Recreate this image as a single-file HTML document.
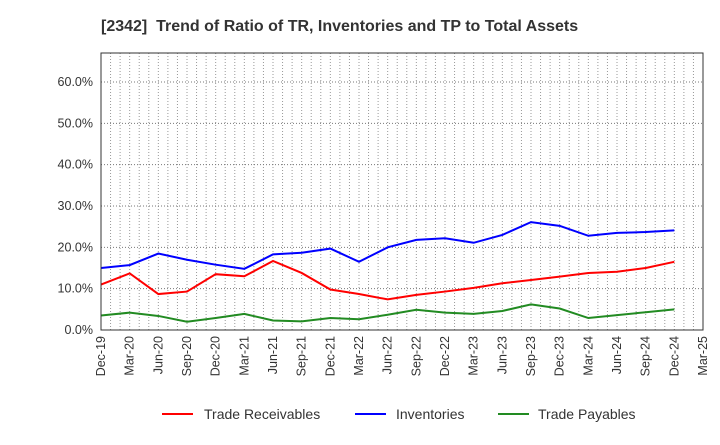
<!DOCTYPE html>
<html><head><meta charset="utf-8"><style>
body{margin:0;background:#fff;font-family:"Liberation Sans",sans-serif}
</style></head><body>
<svg width="720" height="440" viewBox="0 0 720 440" xmlns="http://www.w3.org/2000/svg" font-family="Liberation Sans, sans-serif">
<text x="101" y="31" font-size="16" font-weight="bold" fill="#333" style="white-space:pre">[2342]&#160; Trend of Ratio of TR, Inventories and TP to Total Assets</text>
<g id="grid"></g><g id="axes"></g><g id="series"></g>
<rect x="101" y="53" width="602" height="277" fill="none" stroke="#333" stroke-width="1"/>
<g id="legend"></g>
</svg>
<script>
const categories=["Dec-19","Mar-20","Jun-20","Sep-20","Dec-20","Mar-21","Jun-21","Sep-21","Dec-21","Mar-22","Jun-22","Sep-22","Dec-22","Mar-23","Jun-23","Sep-23","Dec-23","Mar-24","Jun-24","Sep-24","Dec-24","Mar-25"];
const tradeReceivables=[11.0,13.7,8.7,9.3,13.5,13.0,16.7,13.8,9.8,8.7,7.4,8.5,9.3,10.2,11.3,12.1,12.9,13.8,14.1,15.0,16.5];
const inventories=[15.0,15.7,18.5,17.0,15.8,14.8,18.3,18.7,19.7,16.5,20.0,21.8,22.2,21.1,23.0,26.1,25.2,22.8,23.5,23.7,24.1];
const tradePayables=[3.5,4.2,3.4,2.0,2.9,3.9,2.3,2.1,2.9,2.6,3.7,4.9,4.2,3.9,4.6,6.2,5.2,2.9,3.6,4.3,5.0];
const yTicks=[0,10,20,30,40,50,60];
const NS="http://www.w3.org/2000/svg";
const L=101,R=703,T=53,B=330;
const step=(R-L)/(categories.length-1);
const x=i=>L+i*step;
const y=v=>B-v*(B-82)/60;
function mk(tag,attrs,parent){const e=document.createElementNS(NS,tag);for(const k in attrs)e.setAttribute(k,attrs[k]);parent.appendChild(e);return e;}
const grid=document.getElementById('grid'),axes=document.getElementById('axes'),series=document.getElementById('series'),legend=document.getElementById('legend');
for(let m=1;m<(categories.length-1)*3;m++){const xx=L+m*step/3;
 const g=mk('line',{x1:xx,x2:xx,y1:T,y2:B,stroke:'#999','stroke-width':1,'stroke-dasharray':'1,2'},grid);
 
 }
yTicks.forEach(v=>{
 if(v>0){const g=mk('line',{x1:L,x2:R,y1:y(v),y2:y(v),stroke:'#777','stroke-width':1,'stroke-dasharray':'1,2'},grid);
 
 }
 const t=mk('text',{x:L-8,y:y(v)+4,'font-size':12.5,'text-anchor':'end',fill:'#333'},axes);t.textContent=v.toFixed(1)+'%';
 
 
});
categories.forEach((c,i)=>{
 const t=mk('text',{x:0,y:0,'font-size':12.5,'text-anchor':'end',fill:'#333',transform:`translate(${x(i)+4},${B+6}) rotate(-90)`},axes);t.textContent=c;
 
 
});
const defs=[[tradeReceivables,'#ff0000','Trade Receivables',162,204,'trade-receivables'],[inventories,'#0000ff','Inventories',355,396,'inventories'],[tradePayables,'#228b22','Trade Payables',498,538,'trade-payables']];
defs.forEach(([d,col,name,lx,tx,id])=>{
 const p=mk('polyline',{points:d.map((v,i)=>x(i)+','+y(v)).join(' '),fill:'none',stroke:col,'stroke-width':2},series);
 
 
 const g=mk('g',{},legend);
 
 
 mk('line',{x1:lx,x2:lx+31,y1:414,y2:414,stroke:col,'stroke-width':2},g);
 const t=mk('text',{x:tx,y:419,'font-size':14,fill:'#333'},g);t.textContent=name;
});
</script>
</body></html>
